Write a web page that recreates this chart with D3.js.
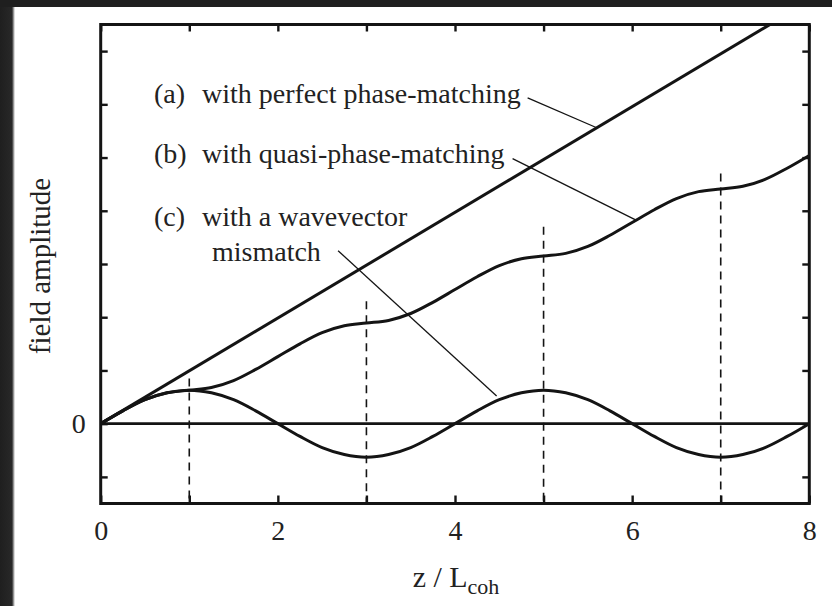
<!DOCTYPE html>
<html>
<head>
<meta charset="utf-8">
<script src="https://cdn.jsdelivr.net/npm/d3@7"></script>
<style>
  html, body { margin: 0; padding: 0; background: #ffffff; }
  svg { display: block; }
  text { font-family: "Liberation Serif", "Times New Roman", serif; fill: #222; }
</style>
</head>
<body>
<svg id="chart" width="832" height="606"></svg>
<script>
// ---- data ----
const zValues = [0,0.25,0.5,0.75,1,1.25,1.5,1.75,2,2.25,2.5,2.75,3,3.25,3.5,3.75,4,
                 4.25,4.5,4.75,5,5.25,5.5,5.75,6,6.25,6.5,6.75,7,7.25,7.5,7.75,8];
// (a) perfect phase-matching: straight line, leaves the top of the frame
const perfectZ = [0, 8];
const perfectA = [0, 7.94];
// (b) quasi-phase-matching
const qpmA = [0,0.24,0.45,0.58,0.63,0.68,0.81,1.02,1.26,1.50,1.71,1.84,1.89,1.94,2.07,2.28,2.52,
              2.76,2.97,3.10,3.15,3.20,3.33,3.54,3.78,4.02,4.23,4.36,4.41,4.46,4.59,4.80,5.04];
// (c) wavevector mismatch
const mismatchA = [0,0.24,0.45,0.58,0.63,0.58,0.45,0.24,0,-0.24,-0.45,-0.58,-0.63,-0.58,-0.45,-0.24,0,
                   0.24,0.45,0.58,0.63,0.58,0.45,0.24,0,-0.24,-0.45,-0.58,-0.63,-0.58,-0.45,-0.24,0];
// dashed markers (domain reversals)
const dashZ = [1, 3, 5, 7];
const dashTop = [0.85, 2.3, 3.7, 4.7];
// ticks
const xTicks = [0,1,2,3,4,5,6,7,8];
const xTickLabels = [0,2,4,6,8];
const yTicks = [-1,0,1,2,3,4,5,6,7];
const yTickLabels = [0];
// annotations
const labelTags = ["(a)", "(b)", "(c)"];
const labelTexts = [["with perfect phase-matching"], ["with quasi-phase-matching"], ["with a wavevector", "mismatch"]];
const leaderFrom = [[4.82, 6.12], [4.65, 4.98], [2.68, 3.25]];
const leaderTo   = [[5.6, 5.56], [6.05, 3.82], [4.47, 0.52]];

// ---- layout ----
const svg = d3.select("#chart");
const W = 832, H = 606;
const x = d3.scaleLinear().domain([0, 8]).range([100.7, 809.3]);
const y = d3.scaleLinear().domain([-1.5, 7.5]).range([503.5, 24.5]);

// dark scan border
svg.append("rect").attr("x", 0).attr("y", 0).attr("width", W).attr("height", H).attr("fill", "#fff");
const defs = svg.append("defs");
const grad = defs.append("linearGradient").attr("id", "lg").attr("x1", 0).attr("x2", 1);
grad.append("stop").attr("offset", "0%").attr("stop-color", "#1f1f1f");
grad.append("stop").attr("offset", "80%").attr("stop-color", "#282828");
grad.append("stop").attr("offset", "100%").attr("stop-color", "#ffffff");
svg.append("rect").attr("x", 0).attr("y", 0).attr("width", 15).attr("height", H).attr("fill", "url(#lg)");
svg.append("rect").attr("x", 0).attr("y", 0).attr("width", W).attr("height", 7).attr("fill", "#1f1f1f");

defs.append("clipPath").attr("id", "plotclip")
  .append("rect").attr("x", x(0)).attr("y", y(7.5)).attr("width", x(8) - x(0)).attr("height", y(-1.5) - y(7.5));

const ink = "#141414";

// axes (ticks inward)
const fmtX = d => xTickLabels.includes(d) ? String(d) : "";
const fmtY = d => yTickLabels.includes(d) ? String(d) : "";
const gB = svg.append("g").attr("transform", `translate(0,${y(-1.5)})`)
  .call(d3.axisBottom(x).tickValues(xTicks).tickSize(-8).tickPadding(17).tickFormat(fmtX));
const gT = svg.append("g").attr("transform", `translate(0,${y(7.5)})`)
  .call(d3.axisTop(x).tickValues(xTicks).tickSize(-7).tickFormat(() => ""));
const gL = svg.append("g").attr("transform", `translate(${x(0)},0)`)
  .call(d3.axisLeft(y).tickValues(yTicks).tickSize(-7).tickPadding(15).tickFormat(fmtY));
const gR = svg.append("g").attr("transform", `translate(${x(8)},0)`)
  .call(d3.axisRight(y).tickValues(yTicks).tickSize(-7).tickFormat(() => ""));
[gB, gT, gL, gR].forEach(g => {
  g.select(".domain").remove();
  g.selectAll(".tick line").attr("stroke", ink).attr("stroke-width", 2.4);
  g.selectAll(".tick text").attr("font-family", "Liberation Serif").attr("font-size", 28).attr("fill", "#222");
});

// dashed verticals
svg.append("g").selectAll("line").data(dashZ).join("line")
  .attr("x1", d => x(d)).attr("x2", d => x(d))
  .attr("y1", (d, i) => y(dashTop[i])).attr("y2", y(-1.5))
  .attr("stroke", ink).attr("stroke-width", 1.6).attr("stroke-dasharray", "8,6");

// zero line
svg.append("line").attr("x1", x(0)).attr("x2", x(8)).attr("y1", y(0)).attr("y2", y(0))
  .attr("stroke", ink).attr("stroke-width", 2.6);

const line = d3.line().x(d => x(d[0])).y(d => y(d[1])).curve(d3.curveCatmullRom);
const g = svg.append("g").attr("clip-path", "url(#plotclip)");
g.append("path").datum(perfectZ.map((z, i) => [z, perfectA[i]]))
  .attr("d", d3.line().x(d => x(d[0])).y(d => y(d[1])))
  .attr("fill", "none").attr("stroke", ink).attr("stroke-width", 3);
g.append("path").datum(zValues.map((z, i) => [z, qpmA[i]]))
  .attr("d", line).attr("fill", "none").attr("stroke", ink).attr("stroke-width", 3);
g.append("path").datum(zValues.map((z, i) => [z, mismatchA[i]]))
  .attr("d", line).attr("fill", "none").attr("stroke", ink).attr("stroke-width", 3);

// frame
svg.append("rect").attr("x", x(0)).attr("y", y(7.5)).attr("width", x(8) - x(0)).attr("height", y(-1.5) - y(7.5))
  .attr("fill", "none").attr("stroke", ink).attr("stroke-width", 3);

// annotations
const baseY = [[103], [163], [226, 261]];
const ann = svg.append("g").attr("font-size", 28);
labelTags.forEach((t, i) => {
  ann.append("text").attr("x", 154).attr("y", baseY[i][0]).text(t);
  labelTexts[i].forEach((s, j) => {
    ann.append("text").attr("x", j === 0 ? 202 : 212).attr("y", baseY[i][j]).text(s);
  });
});
svg.append("g").selectAll("line").data(leaderFrom).join("line")
  .attr("x1", d => x(d[0])).attr("y1", d => y(d[1]))
  .attr("x2", (d, i) => x(leaderTo[i][0])).attr("y2", (d, i) => y(leaderTo[i][1]))
  .attr("stroke", ink).attr("stroke-width", 1.3);

// axis titles
const xt = svg.append("text").attr("x", 456).attr("y", 587).attr("text-anchor", "middle").attr("font-size", 30);
xt.append("tspan").text("z / L");
xt.append("tspan").attr("font-size", 22).attr("dy", 7).text("coh");
svg.append("text").attr("transform", "translate(50,266) rotate(-90)").attr("text-anchor", "middle")
  .attr("font-size", 29).text("field amplitude");
</script>
</body>
</html>
